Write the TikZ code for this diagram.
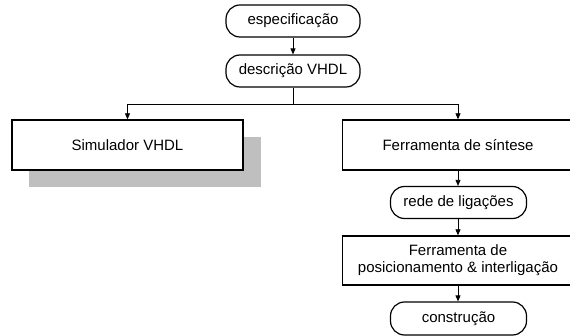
\documentclass[tikz,border=0pt]{standalone}
\usepackage{fontspec}
\setmainfont{Liberation Sans}
\usetikzlibrary{arrows.meta}
\begin{document}
\begin{tikzpicture}[x=1pt,y=-1pt,
  every node/.style={font=\fontsize{15}{17}\selectfont, inner sep=0pt, align=center},
  term/.style={draw, line width=1.2pt, rounded corners=14pt, minimum width=134pt, minimum height=32pt, fill=white},
  proc/.style={draw, line width=1.3pt, minimum width=231pt, minimum height=50pt, fill=white},
  conn/.style={line width=0.8pt},
  arr/.style={conn, -{Triangle[length=6pt,width=5pt]}}]
\clip (0,0) rectangle (570,336);
\fill[white] (0,0) rectangle (570,336);
% shadow
\fill[black!25] (29,137) rectangle (261,187);
\node[term] (esp) at (293,21) {especificação};
\node[term] (desc) at (293,71) {descrição VHDL};
\node[proc] (sim) at (127.5,145) {Simulador VHDL};
\node[proc] (fs) at (458,145) {Ferramenta de síntese};
\node[term, minimum width=136pt] (rede) at (458.5,202.5) {rede de ligações};
\node[proc, minimum height=49pt] (pos) at (458,260.5) {Ferramenta de\\posicionamento \& interligação};
\node[term, minimum width=136pt, minimum height=33pt] (constr) at (458.5,318.5) {construção};
\coordinate (split) at (293,104);
\draw[arr] (esp.south) -- (desc.south |- esp.south) -- (desc.north);
\draw[conn] (desc.south) -- (split);
\draw[arr] (split) -| (sim.north);
\draw[arr] (split) -| (fs.north);
\draw[arr] (fs.south) -- (rede.north -| fs.south);
\draw[arr] (rede.south -| fs.south) -- (pos.north);
\draw[arr] (pos.south) -- (constr.north -| pos.south);
\end{tikzpicture}
\end{document}
